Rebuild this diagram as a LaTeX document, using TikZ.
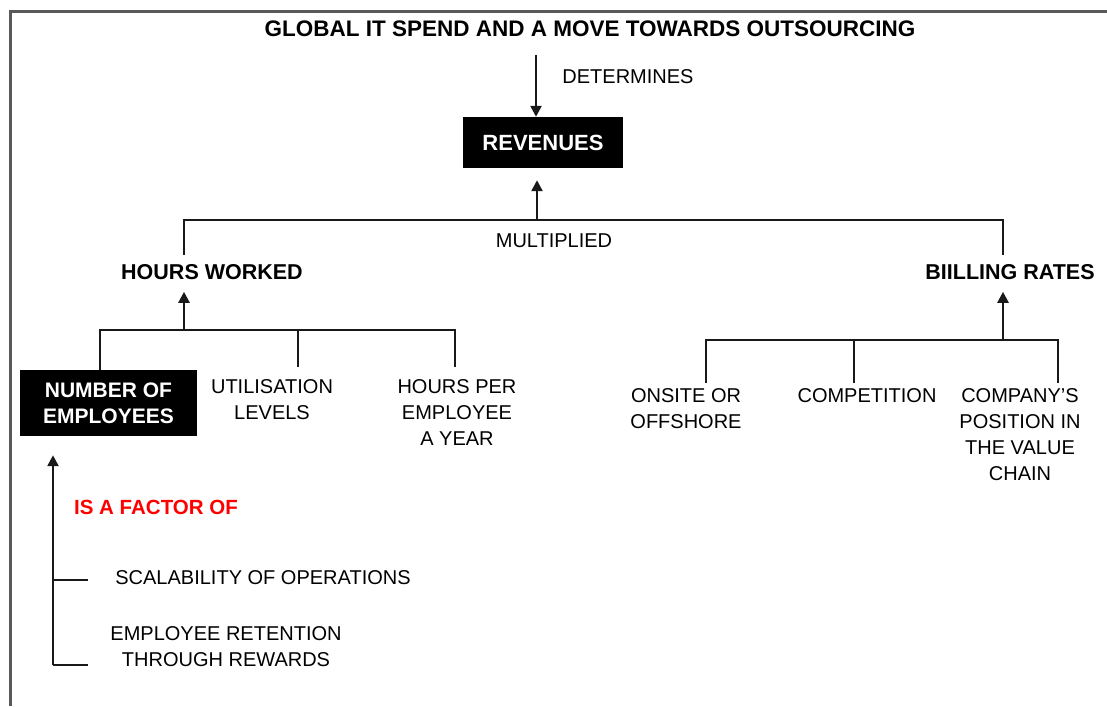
\documentclass[tikz,border=0pt]{standalone}
\usepackage{fontspec}
\setmainfont{Liberation Sans}
\usetikzlibrary{arrows.meta,calc}
\begin{document}
\begin{tikzpicture}[x=1pt,y=-1pt,
  line/.style={line width=2.4pt,draw=black!90},
  arr/.style={line width=2.4pt,draw=black!90,-{Triangle[length=11pt,width=11pt]}},
  bigtxt/.style={font=\fontsize{22.5}{26}\selectfont\bfseries,inner sep=0pt},
  lbl/.style={font=\fontsize{21.5}{26}\selectfont\bfseries,inner sep=0pt},
  txt/.style={font=\fontsize{20}{26}\selectfont,inner sep=0pt,align=center},
  blackbox/.style={fill=black,text=white,font=\fontsize{21}{26}\selectfont\bfseries,align=center,inner sep=0pt}
]
\useasboundingbox (0,0) rectangle (1107,706);
% frame
\draw[line width=3pt,draw=black!65] (1107,12) -- (10,12) -- (10,706);

% title and revenues
\node[bigtxt] (title) at (590,29) {GLOBAL IT SPEND AND A MOVE TOWARDS OUTSOURCING};
\node[blackbox,minimum width=160pt,minimum height=51pt,font=\fontsize{22}{26}\selectfont\bfseries] (rev) at (543,142.5) {REVENUES};
\coordinate (dtop) at (536,55);
\draw[arr] (dtop) -- (dtop |- rev.north);
\node[txt] (det) at (628,77) {DETERMINES};

% multiplied tier
\coordinate (jm) at (537,220);
\coordinate (jl) at (184,220);
\coordinate (jr) at (1003,220);
\node[lbl] (hw) at (212,272) {HOURS WORKED};
\node[lbl] (br) at (1010,272) {BIILLING RATES};
\draw[arr] (jm) -- ([yshift=-12pt]rev.south -| jm);
\draw[line] (jl |- hw.north) ++(0,-9) -- (jl) -- (jr) -- ++(0,35);
\node[txt] (mul) at (554,241) {MULTIPLIED};

% hours worked tier
\coordinate (hj) at (184,330);
\node[blackbox,minimum width=177pt,minimum height=66pt] (ne) at (108.5,403) {NUMBER OF\\EMPLOYEES};
\node[txt] (ul) at (272,400) {UTILISATION\\LEVELS};
\node[txt] (hpe) at (457,413) {HOURS PER\\EMPLOYEE\\A YEAR};
\draw[arr] (hj) -- ([yshift=-12pt]hw.south -| hj);
\coordinate (h1) at (100,330);
\coordinate (h2) at (298,330);
\coordinate (h3) at (455,330);
\draw[line] (h1 |- ne.north) -- (h1) -- (h3) -- ++(0,37);
\draw[line] (h2) -- ++(0,37);

% billing rates tier
\coordinate (bj) at (1003,340);
\node[txt] (oo) at (686,409) {ONSITE OR\\OFFSHORE};
\node[txt] (comp) at (867,396) {COMPETITION};
\node[txt] (cp) at (1020,435) {COMPANY'S\\POSITION IN\\THE VALUE\\CHAIN};
\draw[arr] (bj) -- ([yshift=-12pt]br.south -| bj);
\coordinate (b1) at (706,340);
\coordinate (b2) at (854,340);
\coordinate (b3) at (1058,340);
\draw[line] (b1) ++(0,43) -- (b1) -- (b3) -- ++(0,43);
\draw[line] (b2) -- ++(0,43);

% factors
\node[font=\fontsize{20.5}{24}\selectfont\bfseries,text=red,inner sep=0pt] (fac) at (156,507) {IS A FACTOR OF};
\node[txt] (sc) at (263,578) {SCALABILITY OF OPERATIONS};
\node[txt] (er) at (226,647) {EMPLOYEE RETENTION\\THROUGH REWARDS};
\coordinate (fb) at (53,665);
\coordinate (fm) at (53,580);
\draw[arr] (fb) -- ([yshift=-19pt]ne.south -| fb);
\draw[line] (fm) -- ++(35,0);
\draw[line] (fb) -- ++(35,0);
\end{tikzpicture}
\end{document}
